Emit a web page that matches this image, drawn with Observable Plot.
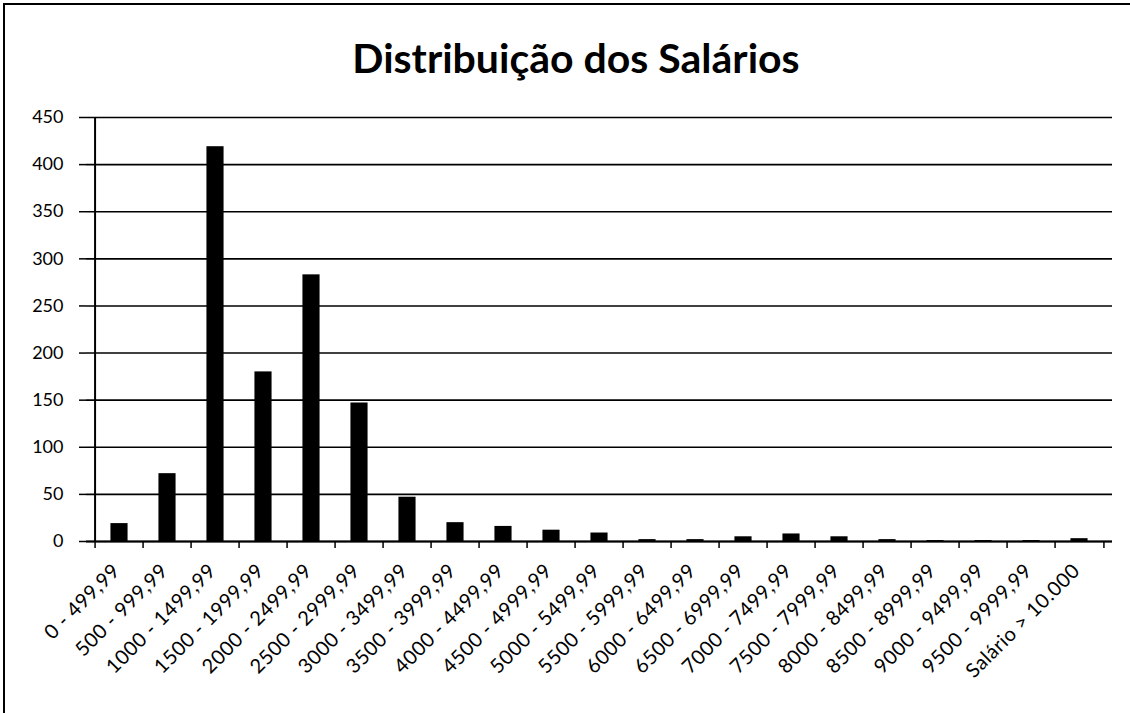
<!DOCTYPE html>
<html>
<head>
<meta charset="utf-8">
<script src="https://cdn.jsdelivr.net/npm/d3@7"></script>
<script src="https://cdn.jsdelivr.net/npm/@observablehq/plot@0.6"></script>
<style>
  html, body { margin: 0; padding: 0; background: #fff; }
  #wrap { position: relative; box-sizing: border-box;
          border-left: 2px solid #000; border-top: 2px solid #000; margin-left: 3px; margin-top: 3px; width: 1127px; height: 710px; }
  #title { position: absolute; left: 0; top: 0; width: 1142px; height: 95px; line-height: 1; text-align: center;
           font-family: Lato, "Open Sans", sans-serif; font-weight: bold; font-size: 41px;
           padding-top: 32px; box-sizing: border-box; color: #000; }
  #chart { position: absolute; left: 0; top: 95px; }
  svg { display: block; }
  g[aria-label="x-axis tick label"] text { letter-spacing: 0.5px; }
</style>
</head>
<body>
<div id="wrap">
  <div id="title">Distribuição dos Salários</div>
  <div id="chart"></div>
</div>
<script>
const categories = [
  "0 - 499,99", "500 - 999,99", "1000 - 1499,99", "1500 - 1999,99", "2000 - 2499,99",
  "2500 - 2999,99", "3000 - 3499,99", "3500 - 3999,99", "4000 - 4499,99", "4500 - 4999,99",
  "5000 - 5499,99", "5500 - 5999,99", "6000 - 6499,99", "6500 - 6999,99", "7000 - 7499,99",
  "7500 - 7999,99", "8000 - 8499,99", "8500 - 8999,99", "9000 - 9499,99", "9500 - 9999,99",
  "Salário > 10.000"
];
const counts = [19, 72, 419, 180, 283, 147, 47, 20, 16, 12, 9, 2, 2, 5, 8, 5, 2, 1, 1, 1, 3];
const yTicks = [0, 50, 100, 150, 200, 250, 300, 350, 400, 450];

const data = categories.map((c, i) => ({cat: c, n: counts[i]}));

const W = 1125, ML = 81, MR = 18;
const bw = (W - ML - MR) / categories.length;

const chart = Plot.plot({
  width: W,
  height: 609,
  marginLeft: ML,
  marginRight: MR,
  marginTop: 17,
  marginBottom: 168,
  style: {fontFamily: "Lato, 'Open Sans', sans-serif", fontSize: "18px", color: "#000", background: "transparent"},
  x: {domain: categories, padding: 0, label: null},
  y: {domain: [0, 450], label: null},
  marks: [
    Plot.gridY(yTicks, {stroke: "#000", strokeOpacity: 1, strokeWidth: 1.6}),
    Plot.barY(data, {x: "cat", y: "n", fill: "#000", insetLeft: bw * 0.316, insetRight: bw * 0.316}),
    Plot.ruleY([0], {stroke: "#000", strokeWidth: 2}),
    Plot.ruleX(categories, {x: d => d, y1: 0, y2: 0, dx: -bw / 2, insetBottom: -7, stroke: "#000", strokeWidth: 1.5}),
    Plot.ruleX([categories[categories.length - 1]], {x: d => d, y1: 0, y2: 0, dx: bw / 2, insetBottom: -7, stroke: "#000", strokeWidth: 1.5}),
    Plot.axisY(yTicks, {tickSize: 7, tickPadding: 16, fontSize: 18, label: null, stroke: "#000", strokeWidth: 1.5}),
    Plot.ruleX([categories[0]], {x: d => d, dx: -bw / 2, y1: 0, y2: 450, stroke: "#000", strokeWidth: 2}),
    Plot.axisX({tickSize: 0, tickRotate: -45, fontSize: 20, tickPadding: 26, dx: -3, label: null})
  ]
});
document.getElementById("chart").appendChild(chart);
</script>
</body>
</html>
